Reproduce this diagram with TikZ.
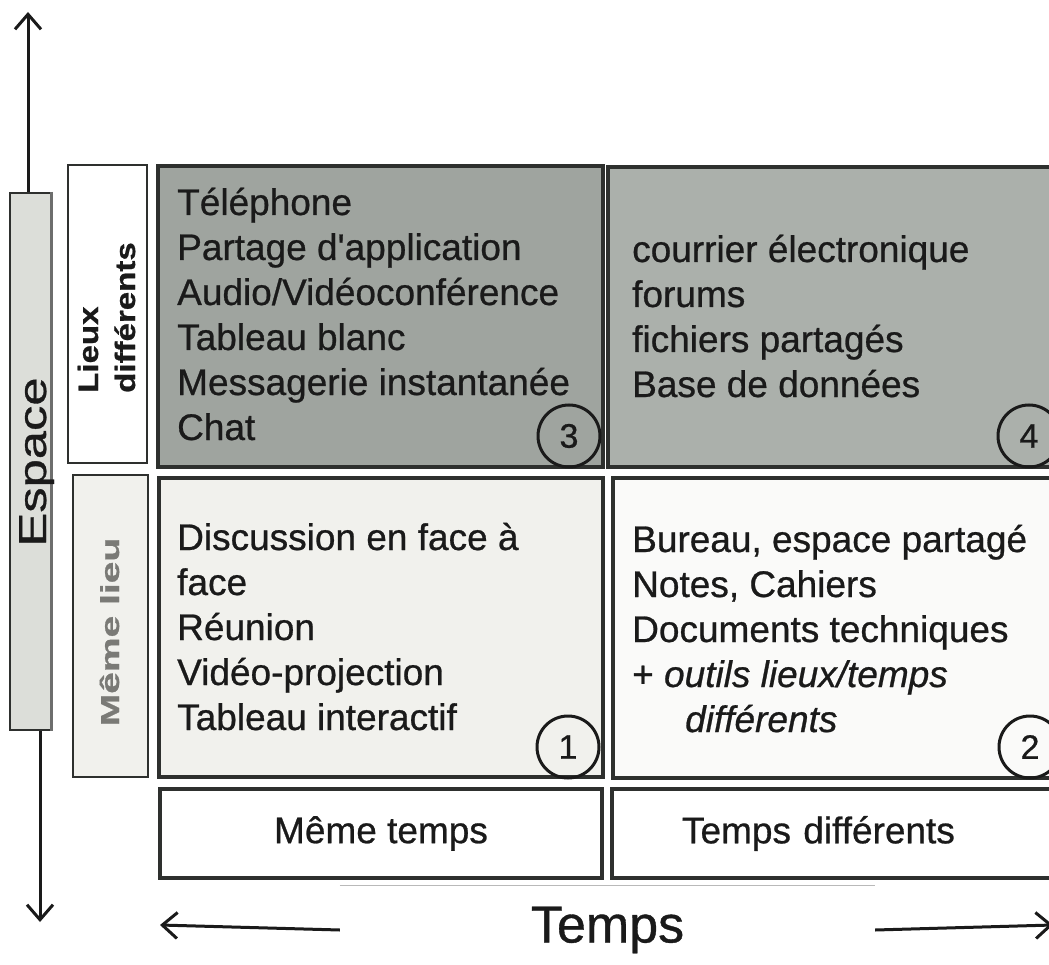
\documentclass[tikz,border=0pt]{standalone}
\usepackage{fontspec}
\setmainfont{Liberation Sans}[FakeBold=0.7]
\font\aposfont="Liberation Sans:embolden=0.7" at 37pt
\newcommand{\straightapos}{{\aposfont\char39}}
\usetikzlibrary{arrows.meta}
\definecolor{ink}{HTML}{1A1A1A}
\definecolor{bord}{HTML}{2E302E}
\definecolor{darkq}{HTML}{9FA49F}
\definecolor{midq}{HTML}{ABB0AB}
\definecolor{lightq}{HTML}{F1F1ED}
\definecolor{whiteq}{HTML}{FAFAF9}
\definecolor{barfill}{HTML}{DCDED9}
\definecolor{greytxt}{HTML}{7A7A76}
\begin{document}
\begin{tikzpicture}[x=1pt,y=-1pt,
  quad/.style={draw=bord, line width=3.5pt, inner sep=0pt, outer sep=0pt},
  item/.style={anchor=base west, inner sep=0pt, font=\fontsize{37}{45}\selectfont, text=ink},
  numc/.style={circle, draw=ink, line width=3pt, minimum size=62pt, inner sep=0pt, font=\fontsize{34}{34}\selectfont, text=ink},
  lab/.style={quad, fill=white, font=\fontsize{37}{45}\selectfont, text=ink},
  arr/.style={draw=ink, line width=3pt, -{Straight Barb[length=15pt, width=26pt]}},
  rot/.style={rotate=90, inner sep=0pt}
]
\clip (0,0) rectangle (1049,965);
\fill[white] (0,0) rectangle (1049,965);

% Espace bar and vertical arrows
\node[draw=bord, line width=2pt, fill=barfill, minimum width=42pt, minimum height=537pt, inner sep=0pt] (esp) at (31,461.5) {};
\draw[bord!70, line width=3pt] ([xshift=-2pt]esp.north east) -- ([xshift=-2pt]esp.south east);
\coordinate (et) at (28,12);
\coordinate (eb) at (40,922);
\draw[arr] (esp.north -| et) -- (et);
\draw[arr] (esp.south -| eb) -- (eb);
\node[rot, anchor=base, font=\fontsize{39}{39}\selectfont, text=ink] (esptxt) at (46,462) {\scalebox{1.3}[1]{Espace}};

% Row labels
\node[quad, line width=2.5pt, fill=white, minimum width=79pt, minimum height=298pt] (lieuxbox) at (107.5,314) {};
\node[rot, anchor=base west, font=\fontsize{28}{28}\selectfont\bfseries, text=ink] (lieux) at (98,393) {\scalebox{1.18}[1]{Lieux}};
\node[rot, anchor=base west, font=\fontsize{28}{28}\selectfont\bfseries, text=ink] (diff) at (135,393) {\scalebox{1.18}[1]{différents}};

\node[quad, line width=2.5pt, fill=lightq, minimum width=75pt, minimum height=302pt] (memebox) at (110.5,626) {};
\node[rot, anchor=base, font=\fontsize{26}{26}\selectfont\bfseries, text=greytxt] (meme) at (119,632) {\scalebox{1.5}[1]{Même lieu}};

% Quadrants
\node[quad, fill=darkq, minimum width=445pt, minimum height=301pt] (q3) at (380.5,316.5) {};
\node[quad, fill=midq, minimum width=462pt, minimum height=300pt] (q4) at (839,317) {};
\node[quad, fill=lightq, minimum width=444pt, minimum height=299pt] (q1) at (381,627.5) {};
\node[quad, fill=whiteq, minimum width=457pt, minimum height=300pt] (q2) at (841.5,628) {};

% Quadrant 3 text
\foreach \t [count=\i] in {Téléphone, Partage d\straightapos application, Audio/Vidéoconférence, Tableau blanc, Messagerie instantanée, Chat}
  \node[item] (q3t\i) at (177,{215+45*(\i-1)}) {\t};
% Quadrant 4 text
\foreach \t [count=\i] in {courrier électronique, forums, fichiers partagés, Base de données}
  \node[item] (q4t\i) at (632,{262+45*(\i-1)}) {\t};
% Quadrant 1 text
\foreach \t [count=\i] in {Discussion en face à, face, Réunion, Vidéo-projection, Tableau interactif}
  \node[item] (q1t\i) at (177,{550+45*(\i-1)}) {\t};
% Quadrant 2 text
\foreach \t [count=\i] in {{Bureau, espace partagé}, {Notes, Cahiers}, Documents techniques, {+ \textit{outils lieux/temps}}}
  \node[item] (q2t\i) at (632,{552+45*(\i-1)}) {\t};
\node[item] (q2t5) at (685,732) {\textit{différents}};

% Numbers
\node[numc] (c3) at (569,436) {3};
\node[numc] (c4) at (1029,436) {4};
\node[numc] (c1) at (568,747) {1};
\node[numc] (c2) at (1030,747) {2};

% Column labels
\node[lab, minimum width=442pt, minimum height=89pt] (mt) at (381,833.5) {Même temps};
\node[lab, minimum width=458pt, minimum height=89pt, text width=452pt, align=left] (td) at (841,833.5) {\hspace*{67pt}Temps différents};

% Temps axis
\node[fill=white, minimum width=535pt, minimum height=88pt, inner sep=0pt, font=\fontsize{52}{52}\selectfont, text=ink] (temps) at (607.5,930) {Temps};
\draw[gray!55, line width=1pt] (temps.north west) -- (temps.north east);
\coordinate (tl) at (160,925);
\coordinate (tr) at (1053,925);
\draw[arr] (temps.west) -- (tl);
\draw[arr] (temps.east) -- (tr);
\end{tikzpicture}
\end{document}
